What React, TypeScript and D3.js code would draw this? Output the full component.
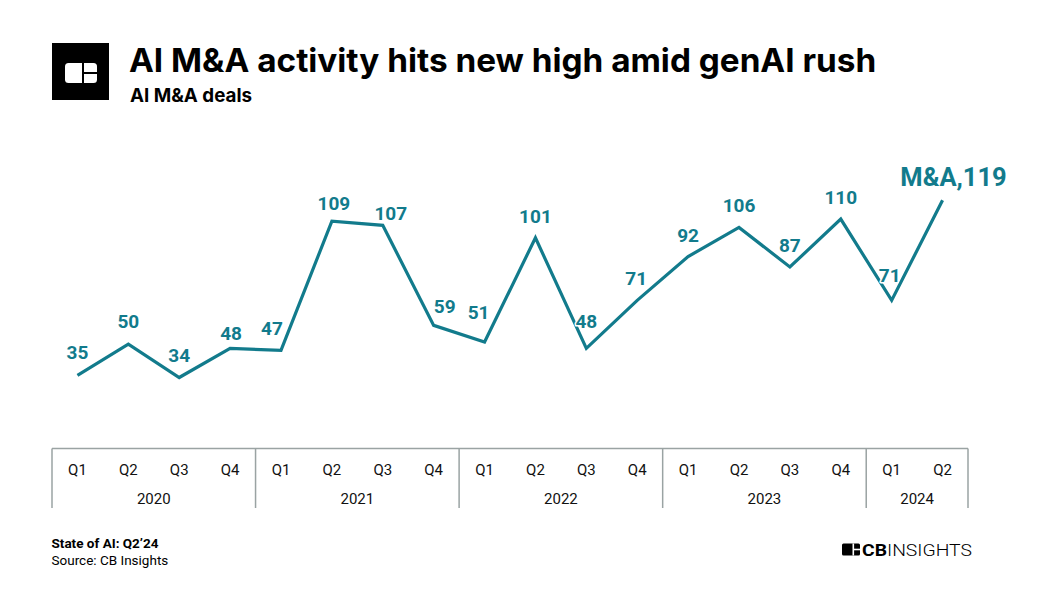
import React from 'react';
import * as d3 from 'd3';

const years = ['2020', '2021', '2022', '2023', '2024'];
const quarterLabels = ['Q1', 'Q2', 'Q3', 'Q4'];
const quartersPerYear = [4, 4, 4, 4, 2];
const deals = [35, 50, 34, 48, 47, 109, 107, 59, 51, 101, 48, 71, 92, 106, 87, 110, 71, 119];
const seriesName = 'M&A';
const title = 'AI M&A activity hits new high amid genAI rush';
const subtitle = 'AI M&A deals';
const footnote = 'State of AI: Q2\u201924';
const source = 'Source: CB Insights';

// label nudges (layout only)
const labelDx = [0, 0, 0, 1, -9, 2, 8, 11, -6, 0, 0, -1, 0, 0, 0, 0, -2, 11];
const labelDy = [-16, -16, -16, -8, -15, -11, -5, -12, -23, -15, -20, -15, -15, -15, -15, -15, -18, -14];

const TEAL = '#127b8c';
const AXIS = '#9aa3a3';
const FONT = 'Roboto, "Noto Sans", sans-serif';
const TITLE_FONT = 'Inter, Roboto, sans-serif';

type Q = { key: string; year: string; q: string; value: number };

const rows: Q[] = [];
{
  let i = 0;
  years.forEach((y, yi) => {
    for (let k = 0; k < quartersPerYear[yi]; k++) {
      rows.push({ key: `${y} ${quarterLabels[k]}`, year: y, q: quarterLabels[k], value: deals[i] });
      i++;
    }
  });
}

export default function App() {
  const W = 1040;
  const H = 592;
  const x = d3.scaleBand<string>().domain(rows.map((r) => r.key)).range([52, 968]).padding(0);
  const y = d3.scaleLinear().domain([0, 120]).range([448.4, 198.2]);
  const cx = (r: Q) => (x(r.key) as number) + x.bandwidth() / 2;
  const line = d3
    .line<Q>()
    .x((r) => cx(r))
    .y((r) => y(r.value));

  const axisTop = y(0);
  const axisBottom = 508;

  const groups: { year: string; start: number; end: number }[] = [];
  {
    let idx = 0;
    years.forEach((yr, yi) => {
      const first = rows[idx];
      const last = rows[idx + quartersPerYear[yi] - 1];
      groups.push({
        year: yr,
        start: x(first.key) as number,
        end: (x(last.key) as number) + x.bandwidth(),
      });
      idx += quartersPerYear[yi];
    });
  }

  return (
    <svg
      width={W}
      height={H}
      viewBox={`0 0 ${W} ${H}`}
      style={{ position: 'absolute', left: 0, top: 0, background: '#fff', fontFamily: FONT }}
    >
      <rect x={0} y={0} width={W} height={H} fill="#fff" />
      {/* header logo */}
      <rect x={52} y={43} width={57} height={57} fill="#000" />
      <rect x={65} y={63} width={32} height={20} rx={3.5} fill="#fff" />
      <rect x={82} y={63} width={2} height={20} fill="#000" />
      <rect x={83} y={72} width={14} height={2} fill="#000" />

      <text x={129} y={72} fontSize={33.3} fontWeight={700} fill="#000" fontFamily={TITLE_FONT}>
        {title}
      </text>
      <text x={130} y={101.5} fontSize={18.8} fontWeight={700} fill="#000" fontFamily={TITLE_FONT}>
        {subtitle}
      </text>

      {/* axis frame */}
      <line x1={52} x2={968} y1={axisTop} y2={axisTop} stroke={AXIS} strokeWidth={1.5} />
      {groups.map((g, i) => (
        <g key={g.year}>
          <line x1={g.start} x2={g.start} y1={axisTop} y2={axisBottom} stroke={AXIS} strokeWidth={1.5} />
          {i === groups.length - 1 && (
            <line x1={g.end} x2={g.end} y1={axisTop} y2={axisBottom} stroke={AXIS} strokeWidth={1.5} />
          )}
          <text x={(g.start + g.end) / 2} y={504.3} textAnchor="middle" fontSize={15} fill="#111">
            {g.year}
          </text>
        </g>
      ))}
      {rows.map((r) => (
        <text key={r.key} x={cx(r)} y={475} textAnchor="middle" fontSize={15} fill="#111">
          {r.q}
        </text>
      ))}

      {/* series line */}
      <path d={line(rows) as string} fill="none" stroke={TEAL} strokeWidth={3.2} strokeLinejoin="miter" />

      {/* labels */}
      {rows.map((r, i) => {
        const isLast = i === rows.length - 1;
        return (
          <text
            key={'l' + r.key}
            x={cx(r) + labelDx[i]}
            y={y(r.value) + labelDy[i]}
            textAnchor="middle"
            fontSize={isLast ? 25.5 : 19}
            fontWeight={700}
            fill={TEAL}
            stroke="#fff"
            strokeWidth={3}
            strokeLinejoin="round"
            style={{ paintOrder: 'stroke' }}
          >
            {isLast ? `${seriesName},${r.value}` : r.value}
          </text>
        );
      })}

      {/* footer */}
      <text x={51.5} y={548.3} fontSize={13.5} fontWeight={700} fill="#000">
        {footnote}
      </text>
      <text x={51.5} y={565} fontSize={13.5} fill="#000">
        {source}
      </text>

      {/* CB Insights logo */}
      <rect x={842} y={543.5} width={18} height={12} rx={1.5} fill="#000" />
      <rect x={852.5} y={543.5} width={1.6} height={12} fill="#fff" />
      <rect x={853} y={548.7} width={7} height={1.6} fill="#fff" />
      <text x={862} y={555.5} fontSize={17} fill="#000" textLength={110} lengthAdjust="spacingAndGlyphs">
        <tspan fontWeight={700}>CB</tspan>
        <tspan fontWeight={300}>INSIGHTS</tspan>
      </text>
    </svg>
  );
}
